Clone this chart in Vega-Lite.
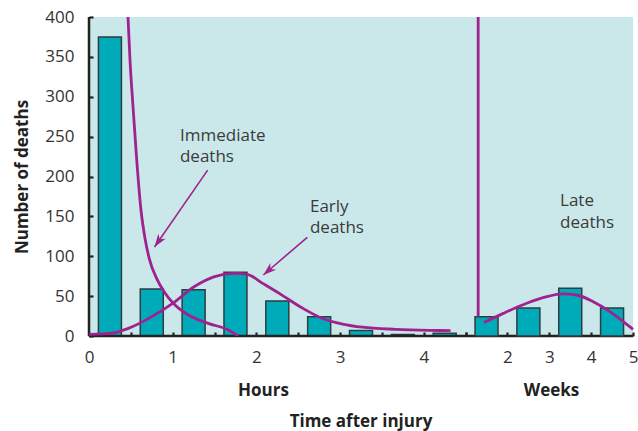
{
  "$schema": "https://vega.github.io/schema/vega-lite/v6.json",
  "width": 544,
  "height": 319,
  "autosize": {"type": "none"},
  "padding": {"left": 89, "top": 17, "right": 5, "bottom": 95},
  "background": "white",
  "config": {
    "font": "Open Sans",
    "view": {"fill": "#cae8ea", "stroke": null},
    "scale": {"continuousPadding": 0},
    "axis": {
      "grid": false,
      "zindex": 1,
      "domain": false,
      "offset": -4,
      "tickColor": "#222222",
      "tickWidth": 2.2,
      "tickSize": 4,
      "labelFont": "Open Sans",
      "labelFontSize": 17,
      "labelColor": "#333333",
      "titleFont": "Open Sans",
      "titleFontSize": 17,
      "titleFontWeight": "bold",
      "titleColor": "#222222"
    }
  },
  "title": {
    "text": "Time after injury",
    "orient": "bottom",
    "anchor": "middle",
    "frame": "group",
    "font": "Open Sans",
    "fontSize": 17,
    "fontWeight": "bold",
    "color": "#222222",
    "offset": 16
  },
  "datasets": {
    "hoursBars": [
      {"hours": 0.25, "deaths": 375},
      {"hours": 0.75, "deaths": 59},
      {"hours": 1.25, "deaths": 58},
      {"hours": 1.75, "deaths": 80},
      {"hours": 2.25, "deaths": 44},
      {"hours": 2.75, "deaths": 24},
      {"hours": 3.25, "deaths": 7},
      {"hours": 3.75, "deaths": 2},
      {"hours": 4.25, "deaths": 3.5}
    ],
    "weeksBars": [
      {"weeks": 1.5, "deaths": 24},
      {"weeks": 2.5, "deaths": 35},
      {"weeks": 3.5, "deaths": 60},
      {"weeks": 4.5, "deaths": 35}
    ],
    "immediate": [
      {"hours": 0.466, "deaths": 400},
      {"hours": 0.49, "deaths": 346},
      {"hours": 0.529, "deaths": 283},
      {"hours": 0.57, "deaths": 221},
      {"hours": 0.621, "deaths": 158},
      {"hours": 0.67, "deaths": 122},
      {"hours": 0.72, "deaths": 97},
      {"hours": 0.809, "deaths": 72},
      {"hours": 0.908, "deaths": 54},
      {"hours": 1.007, "deaths": 41},
      {"hours": 1.187, "deaths": 26.3},
      {"hours": 1.425, "deaths": 15.9},
      {"hours": 1.665, "deaths": 7.5},
      {"hours": 1.784, "deaths": 0}
    ],
    "early": [
      {"hours": 0.0, "deaths": 2},
      {"hours": 0.27, "deaths": 3.5},
      {"hours": 0.47, "deaths": 9.6},
      {"hours": 0.746, "deaths": 24},
      {"hours": 1.0, "deaths": 41},
      {"hours": 1.26, "deaths": 62},
      {"hours": 1.5, "deaths": 74.5},
      {"hours": 1.74, "deaths": 78.6},
      {"hours": 1.9, "deaths": 77},
      {"hours": 2.075, "deaths": 66},
      {"hours": 2.31, "deaths": 51},
      {"hours": 2.55, "deaths": 35},
      {"hours": 2.79, "deaths": 22},
      {"hours": 3.03, "deaths": 15},
      {"hours": 3.27, "deaths": 11},
      {"hours": 3.66, "deaths": 8.4},
      {"hours": 4.06, "deaths": 7.1},
      {"hours": 4.32, "deaths": 6.7}
    ],
    "late": [
      {"weeks": 1.44, "deaths": 17},
      {"weeks": 1.9, "deaths": 28.4},
      {"weeks": 2.46, "deaths": 41},
      {"weeks": 2.94, "deaths": 49.3},
      {"weeks": 3.33, "deaths": 52.7},
      {"weeks": 3.65, "deaths": 51.4},
      {"weeks": 4.05, "deaths": 43},
      {"weeks": 4.45, "deaths": 30.5},
      {"weeks": 4.77, "deaths": 18},
      {"weeks": 5.0, "deaths": 8.4}
    ],
    "separator": [
      {"weeks": 1.3, "deaths": 400, "deaths2": 24}
    ],
    "axisLines": [
      {"hours": 0, "hours2": 6.5, "deaths": 0, "deaths2": 0},
      {"hours": 0, "hours2": 0, "deaths": 0, "deaths2": 400}
    ],
    "arrows": [
      {"arrow": "immediate", "hours": 1.418, "deaths": 208, "hours2": 0.783, "deaths2": 111.6},
      {"arrow": "early", "hours": 2.608, "deaths": 123.8, "hours2": 2.083, "deaths2": 76.5}
    ],
    "arrowTips": [
      {"arrow": "immediate", "hours": 0.783, "deaths": 111.6},
      {"arrow": "early", "hours": 2.083, "deaths": 76.5}
    ],
    "hourLabels": [
      {"hours": 1.087, "deaths": 244.9, "label": "Immediate\ndeaths"},
      {"hours": 2.64, "deaths": 156, "label": "Early\ndeaths"}
    ],
    "weekLabels": [
      {"weeks": 3.256, "deaths": 163, "label": "Late\ndeaths"}
    ]
  },
  "encoding": {
    "y": {
      "field": "deaths", "type": "quantitative",
      "scale": {"domain": [0, 400], "nice": false, "zero": false},
      "axis": {
        "title": "Number of deaths",
        "values": [0, 50, 100, 150, 200, 250, 300, 350, 400],
        "labelPadding": 15,
        "titleX": -66,
        "titleY": 159.5,
        "titleAngle": -90,
        "titleBaseline": "alphabetic",
        "titleAlign": "center"
      }
    }
  },
  "layer": [
    {
      "encoding": {
        "x": {
          "field": "hours", "type": "quantitative",
          "scale": {"domain": [0, 6.5], "nice": false, "zero": false, "padding": 0},
          "axis": {
            "orient": "bottom",
            "title": "Hours",
            "values": [0, 0.5, 1, 1.5, 2, 2.5, 3, 3.5, 4, 4.5],
            "labelExpr": "(datum.value % 1 == 0 && datum.value <= 4) ? '' + datum.value : ''",
            "labelFlush": false,
            "labelPadding": 13,
            "titleX": 174,
            "titleY": 63,
            "titleBaseline": "alphabetic",
            "titleAlign": "center"
          }
        }
      },
      "layer": [
        {
          "data": {"name": "hoursBars"},
          "mark": {"type": "bar", "orient": "vertical", "width": 23, "fill": "#00abb9", "stroke": "#2f3d3f", "strokeWidth": 1.5}
        },
        {
          "data": {"name": "axisLines"},
          "mark": {"type": "rule", "color": "#222222", "strokeWidth": 2.5},
          "encoding": {
            "x2": {"field": "hours2"},
            "y2": {"field": "deaths2"}
          }
        },
        {
          "data": {"name": "immediate"},
          "mark": {"type": "line", "color": "#a0228f", "strokeWidth": 2.8, "interpolate": "monotone", "clip": true}
        },
        {
          "data": {"name": "early"},
          "mark": {"type": "line", "color": "#a0228f", "strokeWidth": 2.8, "interpolate": "monotone"}
        },
        {
          "data": {"name": "arrows"},
          "mark": {"type": "rule", "color": "#a0228f", "strokeWidth": 1.6},
          "encoding": {
            "x2": {"field": "hours2"},
            "y2": {"field": "deaths2"}
          }
        },
        {
          "data": {"name": "arrowTips"},
          "transform": [{"filter": "datum.arrow == 'immediate'"}],
          "mark": {"type": "point", "shape": "M0,0L0.65,1.9L0,1.35L-0.65,1.9Z", "filled": true, "color": "#a0228f", "opacity": 1, "size": 190, "angle": 214.6}
        },
        {
          "data": {"name": "arrowTips"},
          "transform": [{"filter": "datum.arrow == 'early'"}],
          "mark": {"type": "point", "shape": "M0,0L0.65,1.9L0,1.35L-0.65,1.9Z", "filled": true, "color": "#a0228f", "opacity": 1, "size": 190, "angle": 229.4}
        },
        {
          "data": {"name": "hourLabels"},
          "mark": {"type": "text", "align": "left", "baseline": "alphabetic", "lineBreak": "\n", "lineHeight": 21.5, "font": "Open Sans", "fontSize": 17, "color": "#3a3a3a"},
          "encoding": {
            "text": {"field": "label"}
          }
        }
      ]
    },
    {
      "encoding": {
        "x": {
          "field": "weeks", "type": "quantitative",
          "scale": {"domain": [-8, 5], "nice": false, "zero": false, "padding": 0},
          "axis": {
            "orient": "bottom",
            "title": "Weeks",
            "values": [1, 2, 3, 4, 5],
            "labelExpr": "datum.value >= 2 ? '' + datum.value : ''",
            "labelFlush": false,
            "labelPadding": 13,
            "titleX": 462,
            "titleY": 63,
            "titleBaseline": "alphabetic",
            "titleAlign": "center"
          }
        }
      },
      "layer": [
        {
          "data": {"name": "weeksBars"},
          "mark": {"type": "bar", "orient": "vertical", "width": 23, "fill": "#00abb9", "stroke": "#2f3d3f", "strokeWidth": 1.5}
        },
        {
          "data": {"name": "separator"},
          "mark": {"type": "rule", "color": "#a0228f", "strokeWidth": 2.8},
          "encoding": {
            "y2": {"field": "deaths2"}
          }
        },
        {
          "data": {"name": "late"},
          "mark": {"type": "line", "color": "#a0228f", "strokeWidth": 2.8, "interpolate": "monotone"}
        },
        {
          "data": {"name": "weekLabels"},
          "mark": {"type": "text", "align": "left", "baseline": "alphabetic", "lineBreak": "\n", "lineHeight": 21.5, "font": "Open Sans", "fontSize": 17, "color": "#3a3a3a"},
          "encoding": {
            "text": {"field": "label"}
          }
        }
      ]
    }
  ],
  "resolve": {"scale": {"x": "independent"}, "axis": {"x": "independent"}}
}
